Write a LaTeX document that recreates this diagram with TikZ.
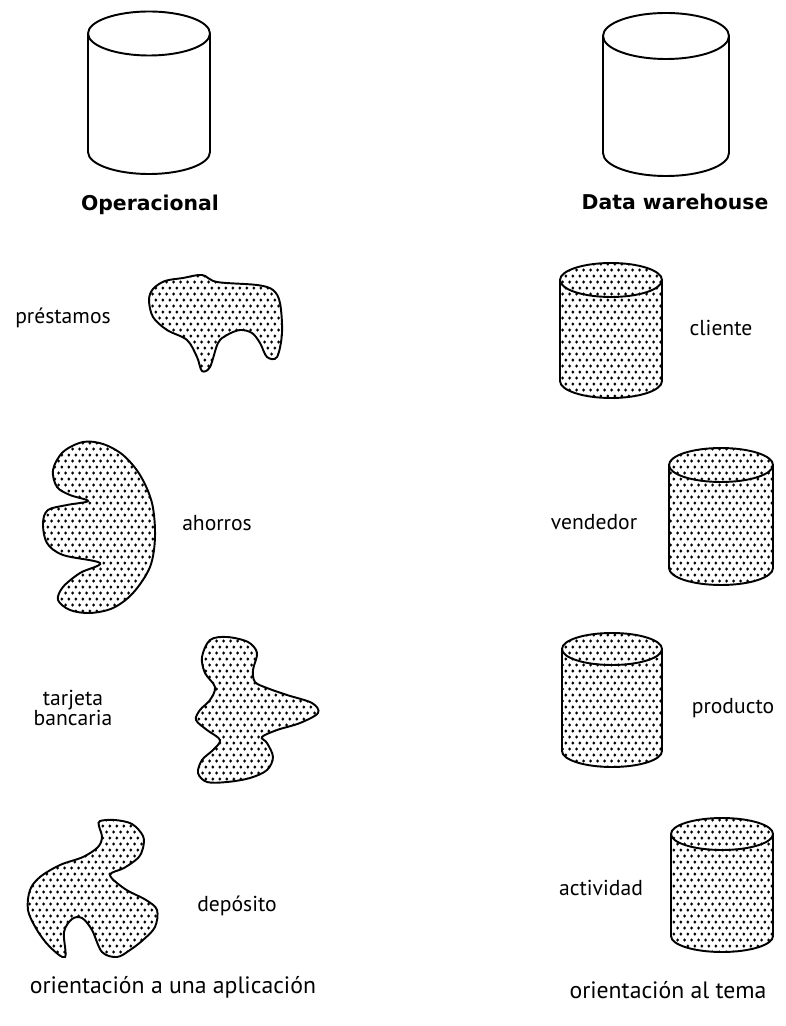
\documentclass[tikz,border=0pt]{standalone}
\usepackage{fontspec}
\setmainfont{PT Sans}
\newfontfamily\headfont{DejaVu Sans}
\usetikzlibrary{patterns.meta}

\tikzdeclarepattern{
  name=stipple,
  type=uncolored,
  bounding box={(0pt,0pt) and (4.1pt,6.8pt)},
  tile size={(4.1pt,6.8pt)},
  code={
    \pgfpathcircle{\pgfqpoint{1.0pt}{1.7pt}}{0.95pt}
    \pgfpathcircle{\pgfqpoint{3.05pt}{5.1pt}}{0.95pt}
    \pgfusepath{fill}
  }
}

\tikzset{
  plaindrum/.style={draw, line width=1.1pt, fill=white},
  dotdrum/.style={draw, line width=1.1pt, pattern=stipple, pattern color=black},
  rim/.style={draw, line width=1.1pt},
  blob/.style={draw, line width=1.1pt, pattern=stipple, pattern color=black},
  heading/.style={font=\headfont\bfseries\fontsize{11.6}{14}\selectfont},
  caption/.style={font=\fontsize{12.3}{14}\selectfont, align=center},
  footer/.style={font=\fontsize{13.5}{16}\selectfont},
}

% #1 style, #2 cx, #3 y of top rim, #4 y of bottom rim, #5 rx, #6 ry
\newcommand{\drum}[6]{%
  \draw[#1] (#2-#5,-#3) -- (#2-#5,-#4)
    arc[start angle=180, end angle=360, x radius=#5, y radius=#6]
    -- (#2+#5,-#3)
    arc[start angle=0, end angle=180, x radius=#5, y radius=#6] -- cycle;
  \draw[rim] (#2-#5,-#3)
    arc[start angle=180, end angle=360, x radius=#5, y radius=#6];
}

\begin{document}
\begin{tikzpicture}[x=0.02cm, y=0.02cm]
  \useasboundingbox (0,0) rectangle (785,-1026);

  % sources
  \drum{plaindrum}{149}{33.5}{152}{61}{22}
  \drum{plaindrum}{666}{36}{153}{63}{23}
  \node[heading] (oper) at (150,-205) {Operacional};
  \node[heading] (dw) at (675,-202) {Data warehouse};

  % application side
  \draw[blob] plot[smooth cycle, tension=0.55] coordinates {
    (149,-300) (153,-317) (167,-330) (187,-340) (197,-357) (202,-371)
    (210,-367) (218,-343) (227,-335) (240,-330) (252,-333) (260,-343)
    (267,-357) (277,-357) (282,-333) (280,-303) (273,-290) (257,-285)
    (217,-282) (202,-275) (183,-278) (165,-281) (153,-289)};
  \node[caption] (prestamos) at (63,-318) {préstamos};

  \draw[blob] plot[smooth cycle, tension=0.55] coordinates {
    (83,-442) (63,-452) (53,-470) (57,-487) (70,-495) (88,-501)
    (67,-505) (48,-510) (43,-523) (47,-543) (63,-555) (100,-563)
    (80,-573) (63,-587) (58,-600) (70,-610) (90,-613) (113,-608)
    (133,-593) (150,-567) (155,-537) (152,-503) (140,-475) (123,-455)
    (103,-444)};
  \node[caption] (ahorros) at (217,-523) {ahorros};

  \draw[blob] plot[smooth cycle, tension=0.55] coordinates {
    (210,-640) (202,-657) (205,-673) (215,-687) (210,-700) (200,-710)
    (196,-720) (207,-730) (220,-740) (213,-750) (202,-760) (198,-773)
    (207,-782) (227,-782) (250,-778) (267,-770) (273,-757) (267,-743)
    (262,-737) (277,-730) (300,-723) (318,-713) (312,-703) (287,-695)
    (267,-688) (255,-682) (253,-670) (257,-653) (248,-642) (227,-637)};
  \node[caption] (tarjeta) at (73,-708) {tarjeta\\[-3pt]bancaria};

  \draw[blob] plot[smooth cycle, tension=0.55] coordinates {
    (100,-821) (115,-820) (132,-824) (143,-836) (143,-848) (138,-858)
    (124,-868) (110,-875) (125,-889) (146,-900) (157,-910) (155,-927)
    (143,-940) (130,-950) (117,-957) (102,-952) (92,-930) (82,-918)
    (72,-919) (64,-932) (65,-957) (50,-947) (37,-930) (28,-910)
    (30,-890) (40,-877) (60,-865) (83,-857) (98,-847) (102,-837)
    (99,-826)};
  \node[caption] (deposito) at (237,-906) {depósito};

  % subject side
  \drum{dotdrum}{611}{280}{381}{51}{17}
  \node[caption] (cliente) at (721,-328) {cliente};
  \drum{dotdrum}{721}{465}{568}{52}{17}
  \node[caption] (vendedor) at (594,-522) {vendedor};
  \drum{dotdrum}{612}{649}{751}{50}{16}
  \node[caption] (producto) at (733,-708) {producto};
  \drum{dotdrum}{722}{834}{936}{51}{16}
  \node[caption] (actividad) at (601,-888) {actividad};

  \node[footer] (apl) at (173,-987) {orientación a una aplicación};
  \node[footer] (tema) at (668,-990) {orientación al tema};
\end{tikzpicture}
\end{document}
